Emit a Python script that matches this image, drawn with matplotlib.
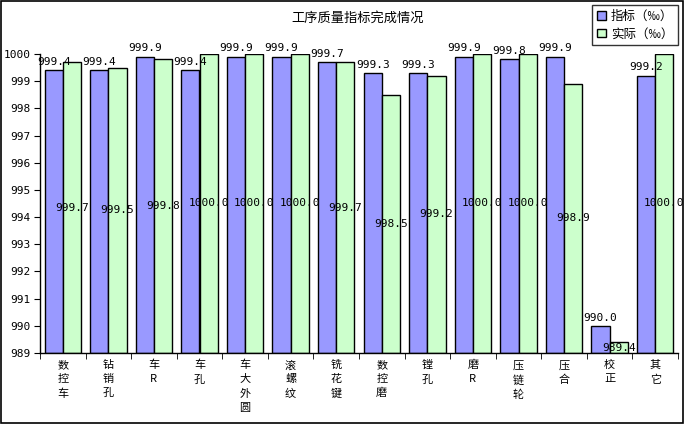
import matplotlib
matplotlib.use("Agg")
import matplotlib.pyplot as plt
import numpy as np
from matplotlib.patches import Rectangle

plt.rcParams['font.family'] = ['Noto Sans CJK SC', 'DejaVu Sans']

categories = ["数控车", "钻销孔", "车R", "车孔", "车大外圆", "滚螺纹", "铣花键",
              "数控磨", "镗孔", "磨R", "压链轮", "压合", "校正", "其它"]
target = [999.4, 999.4, 999.9, 999.4, 999.9, 999.9, 999.7, 999.3, 999.3, 999.9, 999.8, 999.9, 990.0, 999.2]
actual = [999.7, 999.5, 999.8, 1000.0, 1000.0, 1000.0, 999.7, 998.5, 999.2, 1000.0, 1000.0, 998.9, 989.4, 1000.0]
series_names = ["指标（‰）", "实际（‰）"]
yticks = list(range(989, 1001))

def vert(s):
    return "\n".join(list(s))

fig = plt.figure(figsize=(6.84, 4.24), dpi=100)
fig.patches.append(Rectangle((0.001, 0.002), 0.997, 0.996, transform=fig.transFigure,
                             fill=False, edgecolor='black', linewidth=1.2))
ax = fig.add_axes([40/684, 71/424, 638/684, 299/424])

x = np.arange(len(categories))
w = 0.4
base = 989
ax.bar(x - w/2, np.array(target) - base, w, bottom=base, color='#9999FF',
       edgecolor='black', linewidth=1.0, label=series_names[0])
ax.bar(x + w/2, np.array(actual) - base, w, bottom=base, color='#CCFFCC',
       edgecolor='black', linewidth=1.0, label=series_names[1])

for i, v in enumerate(target):
    ax.text(i - w/2, v + 0.12, f"{v:.1f}", ha='center', va='bottom', fontsize=8,
            family='DejaVu Sans Mono')
for i, v in enumerate(actual):
    ax.text(i + w/2, (v + base) / 2, f"{v:.1f}", ha='center', va='center', fontsize=8,
            family='DejaVu Sans Mono')

ax.set_xlim(-0.5, len(categories) - 0.5)
ax.set_ylim(989, 1000)
ax.set_yticks(yticks)
ax.set_yticklabels([str(t) for t in yticks], fontsize=8, family='DejaVu Sans Mono')
ax.set_xticks(x)
ax.set_xticklabels([vert(c) for c in categories], fontsize=8, linespacing=1.5, va='top')
ax.set_xticks(np.arange(-0.5, len(categories)), minor=True)
ax.tick_params(axis='x', which='major', length=0, pad=5)
ax.tick_params(axis='x', which='minor', length=4, direction='out')
ax.tick_params(axis='y', length=4, direction='out', pad=3)
for s in ['top', 'right']:
    ax.spines[s].set_visible(False)
ax.spines['left'].set_linewidth(1.0)
ax.spines['bottom'].set_linewidth(1.0)

fig.text(358/684, 1 - 18/424, "工序质量指标完成情况", ha='center', va='center', fontsize=9.5)

leg = fig.legend(loc='upper right', bbox_to_anchor=(678/684, 1 - 5/424), fontsize=9,
                 frameon=True, fancybox=False, edgecolor='black', handlelength=0.7,
                 handleheight=0.7, borderpad=0.4, labelspacing=0.35, handletextpad=0.4,
                 borderaxespad=0.0)
leg.get_frame().set_linewidth(1.0)

fig.savefig("out.png", dpi=100)
